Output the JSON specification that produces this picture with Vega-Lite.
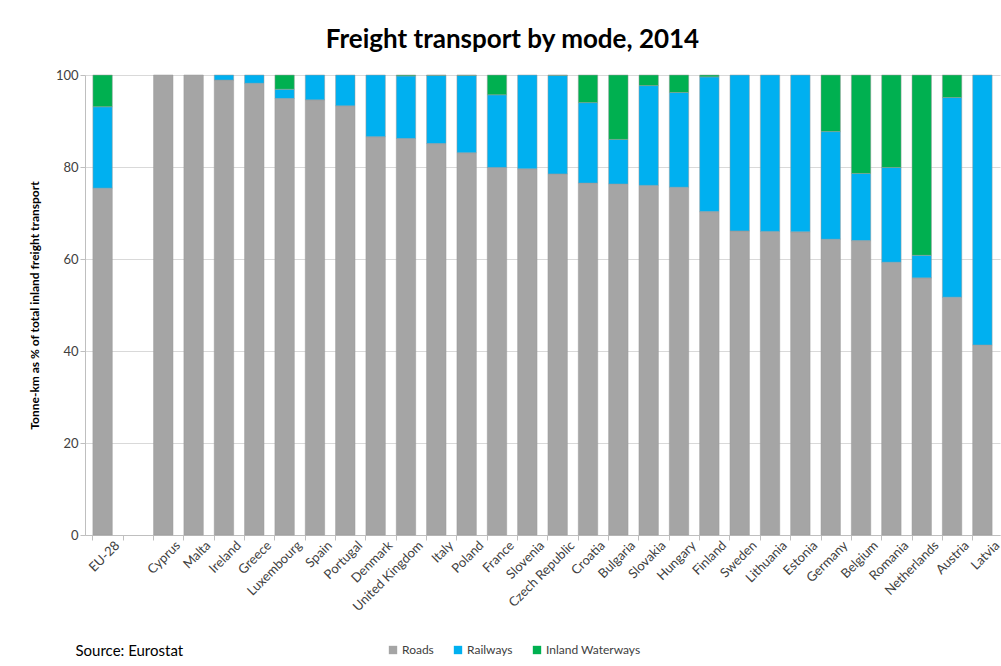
{
  "$schema": "https://vega.github.io/schema/vega-lite/v6.json",
  "autosize": {"type": "none"},
  "width": 915,
  "height": 460,
  "padding": {"left": 85, "top": 75, "right": 1, "bottom": 131},
  "background": "white",
  "title": {
    "text": "Freight transport by mode, 2014",
    "font": "Lato",
    "fontSize": 26,
    "fontWeight": "bold",
    "color": "#000000",
    "anchor": "middle",
    "dx": -30,
    "offset": 16
  },
  "data": {
    "values": [
      {"country": "EU-28", "mode": "Roads", "share": 75.4},
      {"country": "EU-28", "mode": "Railways", "share": 17.7},
      {"country": "EU-28", "mode": "Inland Waterways", "share": 6.9},
      {"country": "Cyprus", "mode": "Roads", "share": 100},
      {"country": "Malta", "mode": "Roads", "share": 100},
      {"country": "Ireland", "mode": "Roads", "share": 98.9},
      {"country": "Ireland", "mode": "Railways", "share": 1.1},
      {"country": "Greece", "mode": "Roads", "share": 98.2},
      {"country": "Greece", "mode": "Railways", "share": 1.8},
      {"country": "Luxembourg", "mode": "Roads", "share": 94.9},
      {"country": "Luxembourg", "mode": "Railways", "share": 2.0},
      {"country": "Luxembourg", "mode": "Inland Waterways", "share": 3.1},
      {"country": "Spain", "mode": "Roads", "share": 94.6},
      {"country": "Spain", "mode": "Railways", "share": 5.4},
      {"country": "Portugal", "mode": "Roads", "share": 93.3},
      {"country": "Portugal", "mode": "Railways", "share": 6.7},
      {"country": "Denmark", "mode": "Roads", "share": 86.6},
      {"country": "Denmark", "mode": "Railways", "share": 13.4},
      {"country": "United Kingdom", "mode": "Roads", "share": 86.2},
      {"country": "United Kingdom", "mode": "Railways", "share": 13.6},
      {"country": "United Kingdom", "mode": "Inland Waterways", "share": 0.2},
      {"country": "Italy", "mode": "Roads", "share": 85.1},
      {"country": "Italy", "mode": "Railways", "share": 14.8},
      {"country": "Italy", "mode": "Inland Waterways", "share": 0.1},
      {"country": "Poland", "mode": "Roads", "share": 83.1},
      {"country": "Poland", "mode": "Railways", "share": 16.8},
      {"country": "Poland", "mode": "Inland Waterways", "share": 0.1},
      {"country": "France", "mode": "Roads", "share": 79.9},
      {"country": "France", "mode": "Railways", "share": 15.8},
      {"country": "France", "mode": "Inland Waterways", "share": 4.3},
      {"country": "Slovenia", "mode": "Roads", "share": 79.6},
      {"country": "Slovenia", "mode": "Railways", "share": 20.4},
      {"country": "Czech Republic", "mode": "Roads", "share": 78.5},
      {"country": "Czech Republic", "mode": "Railways", "share": 21.4},
      {"country": "Czech Republic", "mode": "Inland Waterways", "share": 0.1},
      {"country": "Croatia", "mode": "Roads", "share": 76.5},
      {"country": "Croatia", "mode": "Railways", "share": 17.5},
      {"country": "Croatia", "mode": "Inland Waterways", "share": 6.0},
      {"country": "Bulgaria", "mode": "Roads", "share": 76.3},
      {"country": "Bulgaria", "mode": "Railways", "share": 9.7},
      {"country": "Bulgaria", "mode": "Inland Waterways", "share": 14.0},
      {"country": "Slovakia", "mode": "Roads", "share": 76.0},
      {"country": "Slovakia", "mode": "Railways", "share": 21.7},
      {"country": "Slovakia", "mode": "Inland Waterways", "share": 2.3},
      {"country": "Hungary", "mode": "Roads", "share": 75.6},
      {"country": "Hungary", "mode": "Railways", "share": 20.6},
      {"country": "Hungary", "mode": "Inland Waterways", "share": 3.8},
      {"country": "Finland", "mode": "Roads", "share": 70.3},
      {"country": "Finland", "mode": "Railways", "share": 29.3},
      {"country": "Finland", "mode": "Inland Waterways", "share": 0.4},
      {"country": "Sweden", "mode": "Roads", "share": 66.1},
      {"country": "Sweden", "mode": "Railways", "share": 33.9},
      {"country": "Lithuania", "mode": "Roads", "share": 66.0},
      {"country": "Lithuania", "mode": "Railways", "share": 34.0},
      {"country": "Estonia", "mode": "Roads", "share": 65.9},
      {"country": "Estonia", "mode": "Railways", "share": 34.1},
      {"country": "Germany", "mode": "Roads", "share": 64.3},
      {"country": "Germany", "mode": "Railways", "share": 23.4},
      {"country": "Germany", "mode": "Inland Waterways", "share": 12.3},
      {"country": "Belgium", "mode": "Roads", "share": 64.0},
      {"country": "Belgium", "mode": "Railways", "share": 14.6},
      {"country": "Belgium", "mode": "Inland Waterways", "share": 21.4},
      {"country": "Romania", "mode": "Roads", "share": 59.3},
      {"country": "Romania", "mode": "Railways", "share": 20.6},
      {"country": "Romania", "mode": "Inland Waterways", "share": 20.1},
      {"country": "Netherlands", "mode": "Roads", "share": 55.9},
      {"country": "Netherlands", "mode": "Railways", "share": 4.9},
      {"country": "Netherlands", "mode": "Inland Waterways", "share": 39.2},
      {"country": "Austria", "mode": "Roads", "share": 51.7},
      {"country": "Austria", "mode": "Railways", "share": 43.4},
      {"country": "Austria", "mode": "Inland Waterways", "share": 4.9},
      {"country": "Latvia", "mode": "Roads", "share": 41.3},
      {"country": "Latvia", "mode": "Railways", "share": 58.7}
    ]
  },
  "mark": {"type": "bar", "stroke": "#9a9a9a", "strokeWidth": 0.5},
  "encoding": {
    "x": {
      "field": "country",
      "type": "nominal",
      "scale": {
        "domain": ["EU-28", " ", "Cyprus", "Malta", "Ireland", "Greece", "Luxembourg", "Spain", "Portugal", "Denmark", "United Kingdom", "Italy", "Poland", "France", "Slovenia", "Czech Republic", "Croatia", "Bulgaria", "Slovakia", "Hungary", "Finland", "Sweden", "Lithuania", "Estonia", "Germany", "Belgium", "Romania", "Netherlands", "Austria", "Latvia"],
        "paddingInner": 0.36,
        "paddingOuter": 0.26
      },
      "axis": {
        "title": "Source: Eurostat",
        "titleFont": "Lato",
        "titleFontSize": 15,
        "titleFontWeight": "normal",
        "titleColor": "#000000",
        "titleX": -10,
        "titleY": 108,
        "titleAlign": "left",
        "titleBaseline": "top",
        "labelAngle": -45,
        "labelAlign": "right",
        "labelBaseline": "middle",
        "labelFont": "Lato",
        "labelFontSize": 13,
        "labelColor": "#404040",
        "labelPadding": 3,
        "bandPosition": 0,
        "labelOffset": 15,
        "tickColor": "#bfbfbf",
        "tickSize": 5,
        "domainColor": "#bfbfbf",
        "grid": false
      }
    },
    "y": {
      "field": "share",
      "type": "quantitative",
      "stack": "zero",
      "scale": {"domain": [0, 100], "nice": false},
      "axis": {
        "title": "Tonne-km as % of total inland freight transport",
        "titleFont": "Lato",
        "titleFontSize": 12,
        "titleFontWeight": "bold",
        "titleColor": "#000000",
        "titlePadding": 14,
        "values": [0, 20, 40, 60, 80, 100],
        "labelFont": "Lato",
        "labelFontSize": 13,
        "labelColor": "#404040",
        "tickColor": "#bfbfbf",
        "tickSize": 5,
        "domainColor": "#bfbfbf",
        "gridColor": "#d9d9d9"
      }
    },
    "color": {
      "field": "mode",
      "type": "nominal",
      "sort": ["Roads", "Railways", "Inland Waterways"],
      "scale": {
        "domain": ["Roads", "Railways", "Inland Waterways"],
        "range": ["#a5a5a5", "#00b0f0", "#00b050"]
      },
      "legend": {
        "title": null,
        "orient": "none",
        "direction": "horizontal",
        "legendX": 302,
        "legendY": 569,
        "symbolType": "square",
        "symbolSize": 70,
        "symbolStrokeWidth": 0,
        "labelFont": "Lato",
        "labelFontSize": 12,
        "labelColor": "#404040",
        "columnPadding": 18,
        "labelOffset": 3
      }
    }
  },
  "config": {
    "view": {"stroke": null}
  }
}
